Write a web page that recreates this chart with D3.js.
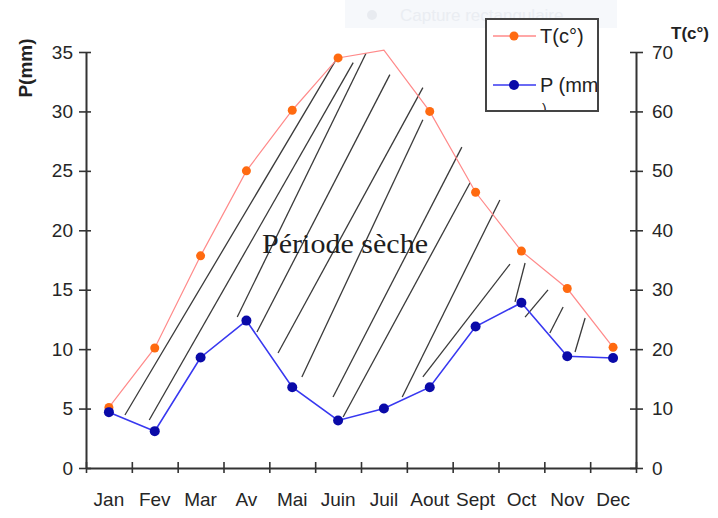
<!DOCTYPE html>
<html><head><meta charset="utf-8">
<script src="https://cdn.jsdelivr.net/npm/d3@7"></script>
<style>html,body{margin:0;padding:0;background:#fff;}svg{display:block;}</style>
</head><body>
<svg id="chart" width="718" height="518"></svg>
<script>
// ---- data ----
const months = ["Jan","Fev","Mar","Av","Mai","Juin","Juil","Aout","Sept","Oct","Nov","Dec"];
const precip = [4.7, 3.1, 9.3, 12.4, 6.8, 4.0, 5.0, 6.8, 11.9, 13.9, 9.4, 9.25];   // P(mm), left axis
const temp   = [10.2, 20.2, 35.7, 50, 60.2, 69, 70.3, 60, 46.4, 36.5, 30.2, 20.3]; // T(c°), right axis
const leftTicks  = [0,5,10,15,20,25,30,35];
const rightTicks = [0,10,20,30,40,50,60,70];
// hatch strokes of the dry period: [monthPos1, mm1, monthPos2, mm2]
const hatch = [
  [5.48,34.5, 0.85,4.46],[5.83,34.1, 1.38,4.04],[6.11,34.9, 3.30,12.7],
  [6.63,33.1, 3.73,11.44],[7.35,32.0, 4.19,9.68],[7.35,29.3, 4.71,7.66],
  [8.20,27.0, 5.39,5.97],[8.38,24.0, 5.61,4.29],[9.03,22.55, 6.90,5.97],
  [9.25,17.16, 7.35,7.66],[9.58,17.25, 9.36,13.97],[10.08,14.98, 9.58,12.7],
  [10.41,13.55, 10.12,11.36],[10.89,12.62, 10.67,9.76]
];
const dryLabel = "Période sèche";

// ---- layout ----
const svg = d3.select("#chart");
const L = 86, R = 636, T = 52, B = 468;
const font = "'Liberation Sans', Arial, sans-serif";

const x = d3.scaleBand().domain(months).range([L, R]).padding(0);
const xc = d3.scaleLinear().domain([0, 12]).range([L, R]);
const yL = d3.scaleLinear().domain([0, 35]).range([B, T]);
const yR = d3.scaleLinear().domain([0, 70]).range([B, T]);

// watermark (faint)
svg.append("rect").attr("x",345).attr("y",0).attr("width",272).attr("height",28).attr("fill","#f6f8fb");
svg.append("circle").attr("cx",372).attr("cy",15).attr("r",5).attr("fill","#e8ebf0");
svg.append("text").attr("x",400).attr("y",21).attr("font-family",font).attr("font-size",17)
  .attr("fill","#eaedf2").text("Capture rectangulaire");

// hatch
svg.append("g").selectAll("line").data(hatch).join("line")
  .attr("x1",d=>xc(d[0])).attr("y1",d=>yL(d[1]))
  .attr("x2",d=>xc(d[2])).attr("y2",d=>yL(d[3]))
  .attr("stroke","#3a3a3a").attr("stroke-width",1.3);

// axes
const axColor = "#333";
function styleAxis(g){
  g.select(".domain").attr("stroke",axColor).attr("stroke-width",2);
  g.selectAll(".tick line").attr("stroke",axColor).attr("stroke-width",1.6);
  g.selectAll("text").attr("font-family",font).attr("font-size",19).attr("fill","#262626");
}
const gL = svg.append("g").attr("transform",`translate(${L},0)`)
  .call(d3.axisLeft(yL).tickValues(leftTicks).tickSize(7).tickSizeOuter(0).tickPadding(6));
styleAxis(gL); gL.selectAll(".tick line").attr("x1",5);

const gR = svg.append("g").attr("transform",`translate(${R},0)`)
  .call(d3.axisRight(yR).tickValues(rightTicks).tickSize(7).tickSizeOuter(0).tickPadding(9));
styleAxis(gR); gR.selectAll(".tick line").attr("x1",-6);

const gXt = svg.append("g").attr("transform",`translate(0,${B})`)
  .call(d3.axisBottom(xc).tickValues(d3.range(0,13)).tickFormat("").tickSize(5).tickSizeOuter(0));
styleAxis(gXt); gXt.selectAll(".tick line").attr("y1",-6);

const gX = svg.append("g").attr("transform",`translate(0,${B})`)
  .call(d3.axisBottom(x).tickSize(0).tickPadding(25));
styleAxis(gX); gX.select(".domain").remove();

// axis titles
svg.append("text").attr("transform","translate(32,68) rotate(-90)").attr("text-anchor","middle")
  .attr("font-family",font).attr("font-size",19).attr("font-weight","bold").attr("fill","#222").text("P(mm)");
svg.append("text").attr("x",671).attr("y",39)
  .attr("font-family",font).attr("font-size",17).attr("font-weight","bold").attr("fill","#222").text("T(c°)");

// lines
const cx = (d,i)=>x(months[i]) + x.bandwidth()/2;
const lineT = d3.line().x(cx).y(d=>yR(d));
const lineP = d3.line().x(cx).y(d=>yL(d));
svg.append("path").datum(temp).attr("d",lineT).attr("fill","none").attr("stroke","#ff8a8a").attr("stroke-width",1.2);
svg.append("path").datum(precip).attr("d",lineP).attr("fill","none").attr("stroke","#3838f0").attr("stroke-width",1.6);
svg.append("g").selectAll("circle").data(temp.map((v,i)=>({v,i})).filter(d=>d.i!==6)).join("circle")
  .attr("cx",d=>cx(d.v,d.i)).attr("cy",d=>yR(d.v)).attr("r",4.5).attr("fill","#ff6a10");
svg.append("g").selectAll("circle").data(precip).join("circle")
  .attr("cx",cx).attr("cy",d=>yL(d)).attr("r",5).attr("fill","#0a0aa8");

// label
svg.append("text").attr("x",262).attr("y",253).attr("font-family","'Liberation Serif','Times New Roman',serif")
  .attr("font-size",28).attr("textLength",166).attr("lengthAdjust","spacingAndGlyphs")
  .attr("fill","#1e1e1e").text(dryLabel);

// legend
const lg = svg.append("g");
svg.append("clipPath").attr("id","lgclip").append("rect").attr("x",486).attr("y",19).attr("width",112).attr("height",92);
lg.append("rect").attr("x",486).attr("y",19).attr("width",112).attr("height",92).attr("fill","#fff");
const lgc = lg.append("g").attr("clip-path","url(#lgclip)");
lgc.append("line").attr("x1",493).attr("x2",536).attr("y1",36).attr("y2",36).attr("stroke","#ff8a8a").attr("stroke-width",1.3);
lgc.append("circle").attr("cx",514).attr("cy",36).attr("r",4.5).attr("fill","#ff6a10");
lgc.append("text").attr("x",540).attr("y",43).attr("font-family",font).attr("font-size",20).attr("fill","#222").text("T(c°)");
lgc.append("line").attr("x1",493).attr("x2",536).attr("y1",85).attr("y2",85).attr("stroke","#3838f0").attr("stroke-width",1.5);
lgc.append("circle").attr("cx",514).attr("cy",85).attr("r",5).attr("fill","#0a0aa8");
lgc.append("text").attr("x",540).attr("y",92).attr("font-family",font).attr("font-size",20).attr("fill","#222").text("P (mm");
lgc.append("text").attr("x",542).attr("y",114).attr("font-family",font).attr("font-size",14).attr("fill","#222").text(")");
lg.append("rect").attr("x",486).attr("y",19).attr("width",112).attr("height",92).attr("fill","none")
  .attr("stroke","#444").attr("stroke-width",2);
</script>
</body></html>
